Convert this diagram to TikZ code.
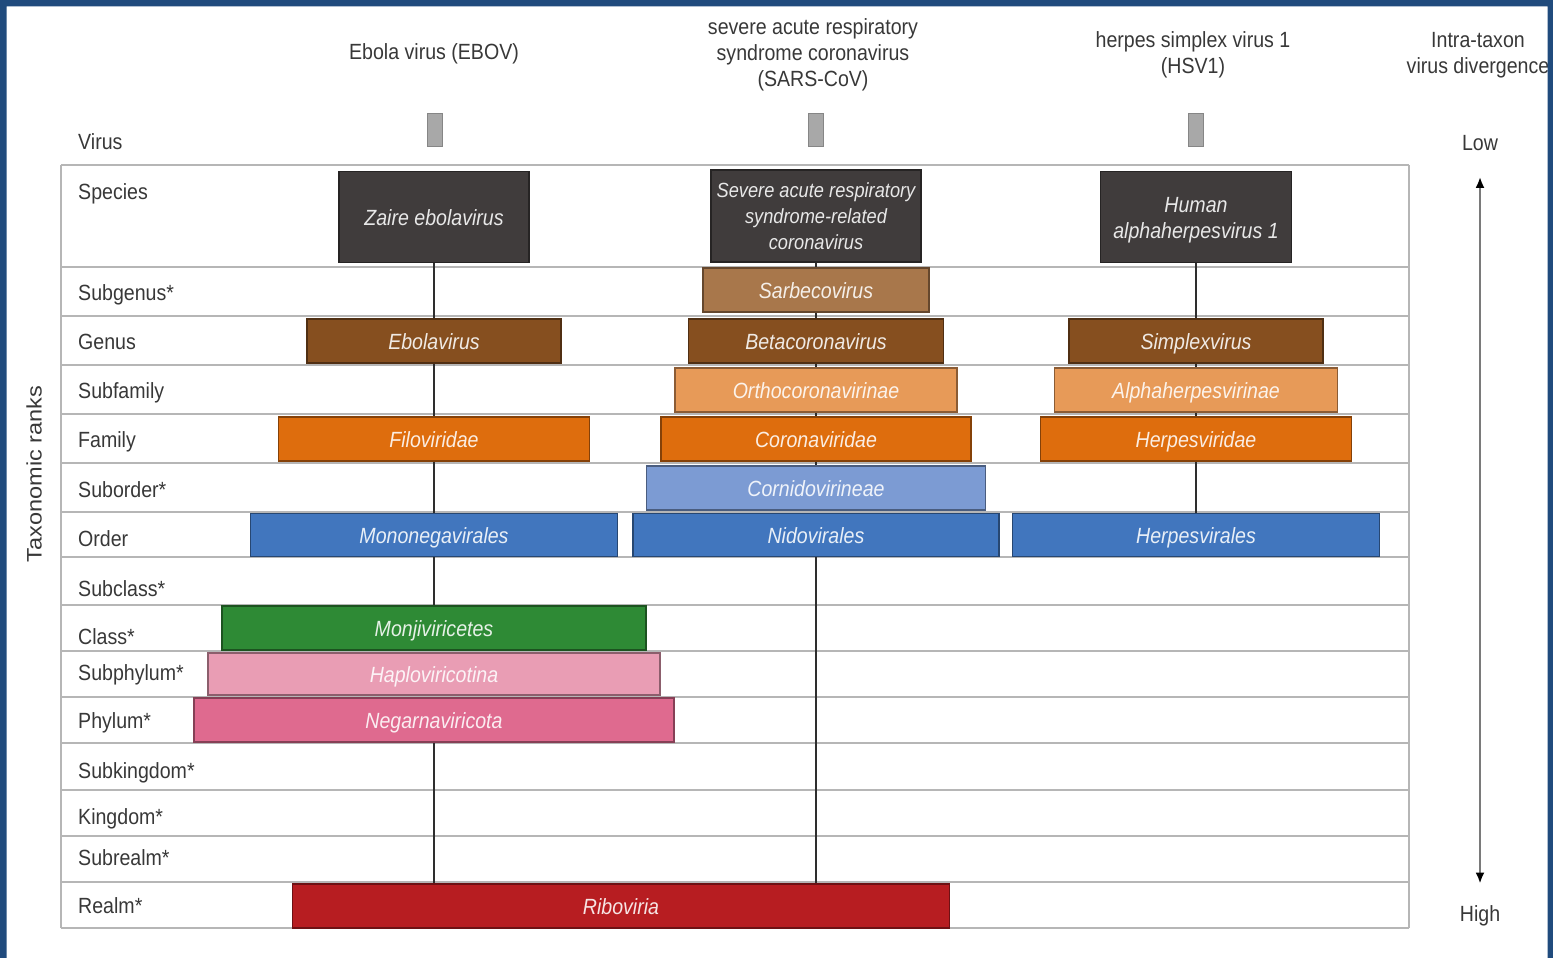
\documentclass[tikz,border=0pt]{standalone}
\usepackage{fontspec}
\setmainfont{Liberation Sans}[FakeStretch=0.89]
\newfontfamily\sidefont{Liberation Sans}[FakeStretch=1.12]
\usetikzlibrary{arrows.meta}

\definecolor{framec}{HTML}{204B7D}
\definecolor{gridc}{HTML}{B6B6B6}
\definecolor{linkc}{HTML}{2E2E2E}
\definecolor{labelc}{HTML}{383838}
\definecolor{barc}{HTML}{A8A8A8}
\definecolor{speciesc}{HTML}{403C3C}
\definecolor{subgenusc}{HTML}{A8774B}
\definecolor{genusc}{HTML}{864F1F}
\definecolor{subfamc}{HTML}{E79A58}
\definecolor{familyc}{HTML}{DE6D0D}
\definecolor{suborderc}{HTML}{7C9BD3}
\definecolor{orderc}{HTML}{4176BE}
\definecolor{classc}{HTML}{2E8A35}
\definecolor{subphylc}{HTML}{E99DB4}
\definecolor{phylumc}{HTML}{DF6A8F}
\definecolor{realmc}{HTML}{B71D21}
\definecolor{arrowc}{HTML}{7A7A7A}

\tikzset{
  rankline/.style={draw=gridc, line width=2.8pt},
  link/.style={draw=linkc, line width=2.8pt},
  taxon/.style={draw=#1!60!black, fill=#1, line width=1.5pt, text=#1!12!white,
    font=\fontsize{22}{26}\selectfont\itshape, minimum height=44pt,
    text height=16pt, text depth=0pt, inner sep=0pt, align=center},
  rank/.style={anchor=mid west, inner sep=0pt, text=labelc},
  head/.style={align=center, inner sep=0pt, text=labelc},
  virusbar/.style={draw=barc!80!black, fill=barc, line width=1pt,
    minimum width=15pt, minimum height=33pt, inner sep=0pt},
  divarrow/.style={{Latex[length=11pt,width=9pt,black]}-{Latex[length=11pt,width=9pt,black]},
    draw=arrowc, line width=2.4pt, shorten <=26pt, shorten >=22pt}
}

\begin{document}
\begin{tikzpicture}[x=1pt,y=-1pt,font=\fontsize{22}{26}\selectfont]
   \useasboundingbox (0,0) rectangle (1553,958);
   % rank rows
   \draw[rankline] (61,165) -- (1409,165);
   \draw[rankline] (61,267) -- (1409,267);
   \draw[rankline] (61,316) -- (1409,316);
   \draw[rankline] (61,365) -- (1409,365);
   \draw[rankline] (61,414) -- (1409,414);
   \draw[rankline] (61,463) -- (1409,463);
   \draw[rankline] (61,512) -- (1409,512);
   \draw[rankline] (61,557) -- (1409,557);
   \draw[rankline] (61,605) -- (1409,605);
   \draw[rankline] (61,651) -- (1409,651);
   \draw[rankline] (61,697) -- (1409,697);
   \draw[rankline] (61,743) -- (1409,743);
   \draw[rankline] (61,790) -- (1409,790);
   \draw[rankline] (61,836) -- (1409,836);
   \draw[rankline] (61,882) -- (1409,882);
   \draw[rankline] (61,928) -- (1409,928);
   \draw[rankline] (61,165) -- (61,928);
   \draw[rankline] (1409,165) -- (1409,928);
   % headers
   \node[head] (hebov) at (434,54) {Ebola virus (EBOV)};
   \node[head] (hsars) at (813,55) {severe acute respiratory\\syndrome coronavirus\\(SARS-CoV)};
   \node[head] (hhsv) at (1193,55) {herpes simplex virus 1\\(HSV1)};
   \node[head] (hdiv) at (1478,55) {Intra-taxon\\virus divergence};
   \node[virusbar] (vebov) at (435,130) {};
   \node[virusbar] (vsars) at (816,130) {};
   \node[virusbar] (vhsv) at (1196,130) {};
   % rank labels
   \node[rank] (lvirus) at (78,147) {Virus};
   \node[rank] (lspecies) at (78,197) {Species};
   \node[rank] (lsubgenus) at (78,298) {Subgenus*};
   \node[rank] (lgenus) at (78,347) {Genus};
   \node[rank] (lsubfamily) at (78,396) {Subfamily};
   \node[rank] (lfamily) at (78,445) {Family};
   \node[rank] (lsuborder) at (78,495) {Suborder*};
   \node[rank] (lorder) at (78,544) {Order};
   \node[rank] (lsubclass) at (78,594) {Subclass*};
   \node[rank] (lclass) at (78,642) {Class*};
   \node[rank] (lsubphylum) at (78,678) {Subphylum*};
   \node[rank] (lphylum) at (78,726) {Phylum*};
   \node[rank] (lsubkingdom) at (78,776) {Subkingdom*};
   \node[rank] (lkingdom) at (78,822) {Kingdom*};
   \node[rank] (lsubrealm) at (78,863) {Subrealm*};
   \node[rank] (lrealm) at (78,911) {Realm*};
   \node[head, rotate=90, font=\sidefont\fontsize{21}{24}\selectfont] (lranks) at (34,474) {Taxonomic ranks};
   % EBOV column
   \node[taxon=speciesc, minimum width=190pt, minimum height=91pt] (zaire) at (434,217) {Zaire ebolavirus};
   \node[taxon=genusc, minimum width=254pt] (ebolavirus) at (434,341) {Ebolavirus};
   \node[taxon=familyc, minimum width=311pt] (filoviridae) at (434,439) {Filoviridae};
   \node[taxon=orderc, minimum width=367pt, minimum height=43pt] (mononega) at (434,535) {Mononegavirales};
   \node[taxon=classc, minimum width=424pt] (monjivir) at (434,628) {Monjiviricetes};
   \node[taxon=subphylc, minimum width=452pt, minimum height=42pt] (haplovir) at (434,674) {Haploviricotina};
   \node[taxon=phylumc, minimum width=480pt] (negarnavir) at (434,720) {Negarnaviricota};
   \node[taxon=realmc, minimum width=657pt] (riboviria) at (621,906) {Riboviria};
   % SARS-CoV column
   \node[taxon=speciesc, minimum width=210pt, minimum height=92pt,
     font=\fontsize{20.5}{26}\selectfont\itshape, text height=67pt] (sarsr) at (816,216) {Severe acute respiratory\\syndrome-related\\coronavirus};
   \node[taxon=subgenusc, minimum width=226pt] (sarbeco) at (816,290) {Sarbecovirus};
   \node[taxon=genusc, minimum width=255pt] (betacorona) at (816,341) {Betacoronavirus};
   \node[taxon=subfamc, minimum width=282pt] (orthocorona) at (816,390) {Orthocoronavirinae};
   \node[taxon=familyc, minimum width=310pt] (coronaviridae) at (816,439) {Coronaviridae};
   \node[taxon=suborderc, minimum width=339pt] (cornido) at (816,488) {Cornidovirineae};
   \node[taxon=orderc, minimum width=366pt, minimum height=43pt] (nidovirales) at (816,535) {Nidovirales};
   % HSV1 column
   \node[taxon=speciesc, minimum width=191pt, minimum height=91pt, text height=42pt] (humanahv) at (1196,217) {Human\\alphaherpesvirus 1};
   \node[taxon=genusc, minimum width=254pt] (simplex) at (1196,341) {Simplexvirus};
   \node[taxon=subfamc, minimum width=283pt] (alphaherpes) at (1196,390) {Alphaherpesvirinae};
   \node[taxon=familyc, minimum width=311pt] (herpesviridae) at (1196,439) {Herpesviridae};
   \node[taxon=orderc, minimum width=367pt, minimum height=43pt] (herpesvirales) at (1196,535) {Herpesvirales};
   % lineages
   \draw[link] (zaire) -- (ebolavirus);
   \draw[link] (ebolavirus) -- (filoviridae);
   \draw[link] (filoviridae) -- (mononega);
   \draw[link] (mononega) -- (monjivir);
   \draw[link] (negarnavir.south) -- (negarnavir.south |- riboviria.north);
   \draw[link] (sarsr) -- (sarbeco);
   \draw[link] (sarbeco) -- (betacorona);
   \draw[link] (betacorona) -- (orthocorona);
   \draw[link] (orthocorona) -- (coronaviridae);
   \draw[link] (coronaviridae) -- (cornido);
   \draw[link] (nidovirales.south) -- (nidovirales.south |- riboviria.north);
   \draw[link] (humanahv) -- (simplex);
   \draw[link] (simplex) -- (alphaherpes);
   \draw[link] (alphaherpes) -- (herpesviridae);
   \draw[link] (herpesviridae) -- (herpesvirales);
   % divergence scale
   \node[head] (low) at (1480,143) {Low};
   \node[head] (high) at (1480,916) {High};
   \draw[divarrow] (low) -- (high);
   % frame
   \fill[framec, even odd rule] (0,0) rectangle (1553,958) (6.5,6.5) rectangle (1547.5,959);
\end{tikzpicture}
\end{document}
